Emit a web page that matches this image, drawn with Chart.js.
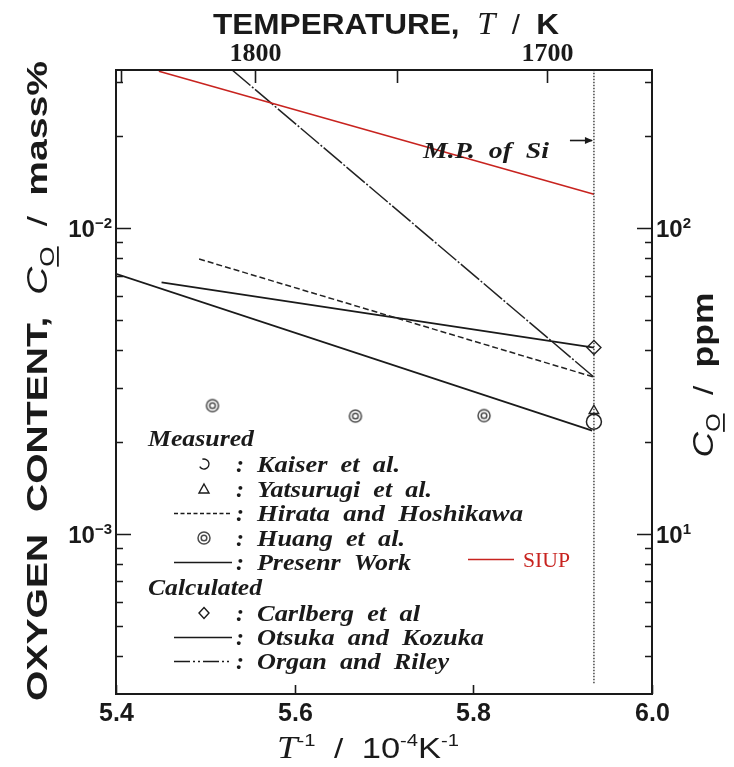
<!DOCTYPE html>
<html><head><meta charset="utf-8">
<script src="https://cdn.jsdelivr.net/npm/chart.js@4.4.1/dist/chart.umd.min.js"></script>
<style>html,body{margin:0;padding:0;background:#fff}#wrap{width:734px;height:767px;position:relative}</style>
</head><body><div id="wrap"><canvas id="c" width="734" height="767"></canvas></div>
<script>
// ---- data (x: 1/T in 10^-4 K^-1, y: oxygen content in mass%) ----
const xRange = [5.4, 6.0];
const yRange = [3.25e-4, 3.29e-2];
const mpInvT = 5.935;
const siupX = [5.448, 5.935];
const siupY = [0.0326, 0.01292];
const organX = [5.530, 5.935];
const organY = [0.0329, 3.26e-3];
const hirataX = [5.493, 5.935];
const hirataY = [7.93e-3, 3.26e-3];
const otsukaX = [5.451, 5.935];
const otsukaY = [6.65e-3, 4.07e-3];
const presentX = [5.40, 5.933];
const presentY = [7.09e-3, 2.18e-3];
const huangX = [5.508, 5.668, 5.812];
const huangY = [2.63e-3, 2.43e-3, 2.44e-3];
const kaiserX = [5.935], kaiserY = [2.33e-3];
const yatsuX = [5.935], yatsuY = [2.53e-3];
const carlX = [5.935], carlY = [4.07e-3];
const xTickVals = [5.4, 5.6, 5.8, 6.0];
const xTickLabels = ['5.4', '5.6', '5.8', '6.0'];
const topTemps = [1850, 1800, 1750, 1700];
const topTempLabels = ['', '1800', '', '1700'];
const yMajor = [1e-3, 1e-2];
const yLeftExp = ['−3', '−2'];
const yRightExp = ['1', '2'];
const legendItems = [
  ['head', 'Measured'],
  ['circle', 'Kaiser  et  al.'],
  ['tri', 'Yatsurugi  et  al.'],
  ['dash', 'Hirata  and  Hoshikawa'],
  ['huang', 'Huang  et  al.'],
  ['solid', 'Presenr  Work'],
  ['head', 'Calculated'],
  ['diamond', 'Carlberg  et  al'],
  ['solid', 'Otsuka  and  Kozuka'],
  ['dashdot', 'Organ  and  Riley']
];

const zip = (xs, ys) => xs.map((x, i) => ({x, y: ys[i]}));
const SANS = '"Liberation Sans", Arial, sans-serif';
const SERIF = '"Liberation Serif", "Times New Roman", serif';
const RED = '#c8231f';
const INK = '#1a1a1a';

// double-circle marker (Huang)
function huangMarker(){
  const c = document.createElement('canvas'); c.width = 16; c.height = 16;
  const g = c.getContext('2d'); g.strokeStyle = '#4a4a4a'; g.lineWidth = 1.5;
  g.beginPath(); g.arc(8, 8, 6, 0, Math.PI*2); g.stroke();
  g.beginPath(); g.arc(8, 8, 2.8, 0, Math.PI*2); g.stroke();
  return c;
}
const hm = huangMarker();

function runsWidth(ctx, runs){ let w = 0; for (const r of runs){ ctx.font = r.f; w += ctx.measureText(r.t).width + (r.gap||0); } return w; }
function drawRuns(ctx, runs, x, y, o){
  o = o || {};
  ctx.save(); ctx.translate(x, y); if (o.rot) ctx.rotate(o.rot);
  const nat = runsWidth(ctx, runs);
  const sx = o.width ? o.width/nat : 1;
  ctx.scale(sx, 1);
  let cx = o.align === 'left' ? 0 : (o.align === 'right' ? -nat : -nat/2);
  ctx.textBaseline = 'alphabetic'; ctx.textAlign = 'left';
  for (const r of runs){
    ctx.font = r.f; ctx.fillStyle = r.c || INK;
    ctx.fillText(r.t, cx, r.dy||0);
    const w = ctx.measureText(r.t).width;
    if (r.u) ctx.fillRect(cx, (r.dy||0) + r.u, w, 1.8);
    cx += w + (r.gap||0);
  }
  ctx.restore();
}

const deco = {
  id: 'deco',
  afterDatasetsDraw(chart){
    const {ctx, chartArea: a, scales: {x, y}} = chart;
    ctx.save();
    // frame
    ctx.strokeStyle = INK; ctx.lineWidth = 2;
    ctx.strokeRect(a.left, a.top, a.right - a.left, a.bottom - a.top);
    ctx.lineWidth = 1.6;
    // y ticks (left & right)
    for (let e = -4; e <= -2; e++){
      for (let m = 1; m <= 9; m++){
        const v = m * Math.pow(10, e);
        if (v < yRange[0] || v > yRange[1]) continue;
        const py = Math.round(y.getPixelForValue(v)) + 0.5;
        const L = m === 1 ? 15 : 7;
        ctx.beginPath(); ctx.moveTo(a.left, py); ctx.lineTo(a.left + L, py);
        ctx.moveTo(a.right, py); ctx.lineTo(a.right - L, py); ctx.stroke();
      }
    }
    // bottom ticks
    xTickVals.forEach((v, i) => {
      const px = Math.round(x.getPixelForValue(v)) + 0.5;
      ctx.beginPath(); ctx.moveTo(px, a.bottom); ctx.lineTo(px, a.bottom - 9); ctx.stroke();
      drawRuns(ctx, [{t: xTickLabels[i], f: 'bold 25px ' + SANS}], px, a.bottom + 27);
    });
    // top ticks (temperature)
    topTemps.forEach((T, i) => {
      const px = Math.round(x.getPixelForValue(1e4 / T)) + 0.5;
      ctx.beginPath(); ctx.moveTo(px, a.top); ctx.lineTo(px, a.top + 13); ctx.stroke();
      if (topTempLabels[i]) drawRuns(ctx, [{t: topTempLabels[i], f: 'bold 26px ' + SERIF}], px, a.top - 9);
    });
    // y tick labels
    yMajor.forEach((v, i) => {
      const py = y.getPixelForValue(v);
      drawRuns(ctx, [{t: '10', f: 'bold 24px ' + SANS}, {t: yLeftExp[i], f: 'bold 15px ' + SANS, dy: -9}], a.left - 4, py + 9, {align: 'right'});
      drawRuns(ctx, [{t: '10', f: 'bold 24px ' + SANS}, {t: yRightExp[i], f: 'bold 15px ' + SANS, dy: -9}], a.right + 4, py + 9, {align: 'left'});
    });
    // M.P. arrow and label
    const mx = x.getPixelForValue(mpInvT);
    ctx.beginPath(); ctx.moveTo(mx - 24, 140.5); ctx.lineTo(mx - 2, 140.5); ctx.stroke();
    ctx.beginPath(); ctx.moveTo(mx - 1, 140.5); ctx.lineTo(mx - 9, 137); ctx.lineTo(mx - 9, 144); ctx.closePath(); ctx.fillStyle = INK; ctx.fill();
    drawRuns(ctx, [{t: 'M.P.  of  Si', f: 'italic bold 23px ' + SERIF}], 423, 158, {align: 'left', width: 126});

    // legend
    const LX = 148, SX = 204, CX = 236, TX = 257;
    const rowY = [438, 464, 489, 513, 538, 562, 587, 613, 637, 661];
    const TW = [106, 143, 175, 266, 148, 154, 114, 163, 227, 192];
    const F = 'italic bold 24px ' + SERIF;
    legendItems.forEach((it, i) => {
      const [kind, label] = it; const yy = rowY[i];
      if (kind === 'head'){ drawRuns(ctx, [{t: label, f: F}], LX, yy + 8, {align: 'left', width: TW[i]}); return; }
      drawRuns(ctx, [{t: ':', f: F}], CX, yy + 8, {align: 'left'});
      drawRuns(ctx, [{t: label, f: F}], TX, yy + 8, {align: 'left', width: TW[i]});
      ctx.strokeStyle = INK; ctx.lineWidth = 1.4; ctx.setLineDash([]);
      const ly = yy + 0.5;
      if (kind === 'circle'){ ctx.beginPath(); ctx.arc(SX, yy, 5, -1.9, 2.6); ctx.stroke(); }
      else if (kind === 'tri'){ ctx.beginPath(); ctx.moveTo(SX, yy - 5); ctx.lineTo(SX + 5, yy + 4); ctx.lineTo(SX - 5, yy + 4); ctx.closePath(); ctx.stroke(); }
      else if (kind === 'huang'){ ctx.drawImage(hm, SX - 8, yy - 8); }
      else if (kind === 'diamond'){ ctx.beginPath(); ctx.moveTo(SX, yy - 5.5); ctx.lineTo(SX + 5, yy); ctx.lineTo(SX, yy + 5.5); ctx.lineTo(SX - 5, yy); ctx.closePath(); ctx.stroke(); }
      else if (kind === 'dash'){ ctx.setLineDash([4, 2.5]); ctx.beginPath(); ctx.moveTo(174, ly); ctx.lineTo(232, ly); ctx.stroke(); ctx.setLineDash([]); }
      else if (kind === 'solid'){ ctx.beginPath(); ctx.moveTo(174, ly); ctx.lineTo(232, ly); ctx.stroke(); }
      else if (kind === 'dashdot'){ ctx.setLineDash([16, 3, 2, 3, 2, 3]); ctx.beginPath(); ctx.moveTo(174, ly); ctx.lineTo(232, ly); ctx.stroke(); ctx.setLineDash([]); }
    });
    // SIUP legend
    ctx.strokeStyle = RED; ctx.lineWidth = 1.6;
    ctx.beginPath(); ctx.moveTo(468, 559.5); ctx.lineTo(514, 559.5); ctx.stroke();
    drawRuns(ctx, [{t: 'SIUP', f: '21px ' + SERIF, c: RED}], 523, 567, {align: 'left', width: 47});

    // axis titles
    drawRuns(ctx, [
      {t: 'TEMPERATURE,  ', f: 'bold 30px ' + SANS},
      {t: 'T', f: 'italic 31px ' + SERIF},
      {t: '  /  ', f: '28px ' + SANS},
      {t: 'K', f: 'bold 30px ' + SANS}
    ], 386, 34, {width: 346});
    drawRuns(ctx, [
      {t: 'T', f: 'italic 31px ' + SERIF},
      {t: '-1', f: '17px ' + SANS, dy: -12},
      {t: '  /  ', f: '28px ' + SANS},
      {t: '10', f: '29px ' + SANS},
      {t: '-4', f: '17px ' + SANS, dy: -12},
      {t: 'K', f: '29px ' + SANS},
      {t: '-1', f: '17px ' + SANS, dy: -12}
    ], 368, 758, {width: 182});
    drawRuns(ctx, [
      {t: 'OXYGEN  CONTENT,  ', f: 'bold 30px ' + SANS},
      {t: 'C', f: 'italic 30px ' + SANS},
      {t: 'O', f: '20px ' + SANS, dy: 7, u: 3},
      {t: '  /  ', f: '28px ' + SANS},
      {t: 'mass%', f: 'bold 30px ' + SANS}
    ], 47, 381, {rot: -Math.PI/2, width: 640});
    drawRuns(ctx, [
      {t: 'C', f: 'italic 30px ' + SANS},
      {t: 'O', f: '20px ' + SANS, dy: 7, u: 3},
      {t: '  /  ', f: '28px ' + SANS},
      {t: 'ppm', f: 'bold 30px ' + SANS}
    ], 713, 375, {rot: -Math.PI/2, width: 165});
    ctx.restore();
  }
};

const lineDs = (xs, ys, color, dash, w) => ({
  data: zip(xs, ys), showLine: true, borderColor: color, borderWidth: w || 1.5,
  borderDash: dash || [], pointRadius: 0, fill: false
});

new Chart(document.getElementById('c'), {
  type: 'scatter',
  data: {
    datasets: [
      lineDs([mpInvT, mpInvT], yRange, '#2a2a2a', [1.6, 1.4], 1.3),
      lineDs(siupX, siupY, RED, [], 1.6),
      lineDs(organX, organY, '#222', [24, 2, 2, 2], 1.5),
      lineDs(hirataX, hirataY, '#222', [6, 3], 1.5),
      lineDs(otsukaX, otsukaY, '#1a1a1a', [], 1.8),
      lineDs(presentX, presentY, '#1a1a1a', [], 1.8),
      {data: zip(huangX, huangY), pointStyle: hm, pointRadius: 8, showLine: false},
      {data: zip(kaiserX, kaiserY), pointStyle: 'circle', pointRadius: 7.5, backgroundColor: '#fff', borderColor: '#222', borderWidth: 1.5, showLine: false},
      {data: zip(yatsuX, yatsuY), pointStyle: 'triangle', pointRadius: 5.5, backgroundColor: '#fff', borderColor: '#222', borderWidth: 1.4, showLine: false},
      {data: zip(carlX, carlY), pointStyle: 'rectRot', pointRadius: 7, backgroundColor: '#fff', borderColor: '#222', borderWidth: 1.4, showLine: false}
    ]
  },
  options: {
    responsive: false, animation: false, devicePixelRatio: 1,
    layout: {padding: {left: 116, right: 82, top: 70, bottom: 73}},
    plugins: {legend: {display: false}, tooltip: {enabled: false}},
    scales: {
      x: {type: 'linear', min: xRange[0], max: xRange[1], display: false},
      y: {type: 'logarithmic', min: yRange[0], max: yRange[1], display: false}
    }
  },
  plugins: [deco]
});
</script></body></html>
